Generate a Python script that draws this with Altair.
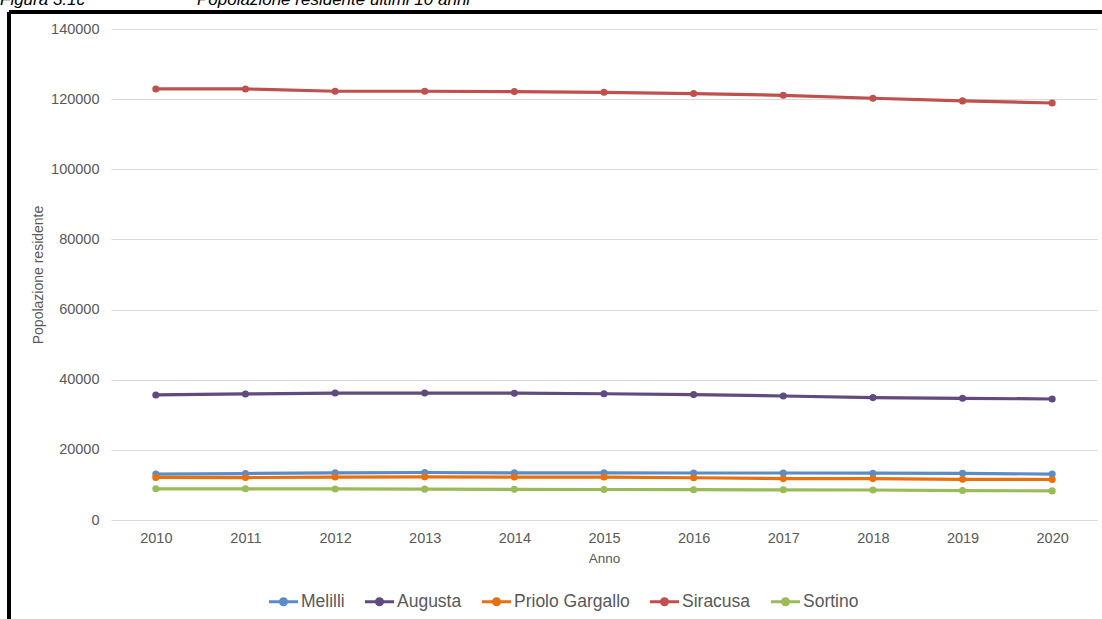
import altair as alt
import pandas as pd

years = [str(y) for y in range(2010, 2021)]
comuni = ["Melilli", "Augusta", "Priolo Gargallo", "Siracusa", "Sortino"]
melilli = [13100, 13250, 13450, 13550, 13450, 13450, 13400, 13400, 13350, 13300, 13100]
augusta = [35650, 35950, 36200, 36200, 36150, 36000, 35750, 35350, 34900, 34700, 34500]
priolo = [12150, 12100, 12250, 12300, 12250, 12250, 12050, 11800, 11800, 11600, 11550]
siracusa = [122900, 122900, 122250, 122250, 122150, 121950, 121600, 121100, 120250, 119500, 118900]
sortino = [8900, 8900, 8850, 8800, 8750, 8700, 8650, 8600, 8550, 8400, 8300]
colors = ["#5B8CC8", "#614A7D", "#E8700E", "#C0504D", "#9BBB59"]
series = [melilli, augusta, priolo, siracusa, sortino]

rows = []
for name, vals in zip(comuni, series):
    for y, v in zip(years, vals):
        rows.append({"Anno": y, "Comune": name, "Popolazione": v})
df = pd.DataFrame(rows)

FONT = "Liberation Sans"
GRAY = "#595959"

color = alt.Color(
    "Comune:N",
    scale=alt.Scale(domain=comuni, range=colors),
    sort=comuni,
    legend=alt.Legend(
        title=None,
        orient="none",
        direction="horizontal",
        legendX=156,
        legendY=556,
        symbolType="M-1,0L-0.21,0M0.21,0L1,0M-0.21,0A0.21,0.21 0 1,1 0.21,0A0.21,0.21 0 1,1 -0.21,0Z",
        symbolSize=850,
        symbolStrokeWidth=3,
        labelFontSize=17.5,
        labelColor=GRAY,
        labelFont=FONT,
        columnPadding=13,
        labelOffset=1,
    ),
)

x = alt.X(
    "Anno:O",
    sort=years,
    scale=alt.Scale(padding=0.5),
    axis=alt.Axis(
        title="Anno",
        labelAngle=0,
        ticks=False,
        domain=False,
        grid=False,
        labelFontSize=14.5,
        labelColor=GRAY,
        labelFont=FONT,
        labelPadding=11,
        titleFontSize=13.5,
        titleFontWeight="normal",
        titleColor=GRAY,
        titleFont=FONT,
        titlePadding=7,
    ),
)
y = alt.Y(
    "Popolazione:Q",
    scale=alt.Scale(domain=[0, 140000]),
    axis=alt.Axis(
        title="Popolazione residente",
        values=[0, 20000, 40000, 60000, 80000, 100000, 120000, 140000],
        format="d",
        ticks=False,
        domain=False,
        gridColor="#D9D9D9",
        labelFontSize=14.5,
        labelColor=GRAY,
        labelFont=FONT,
        labelPadding=12,
        titleFontSize=14,
        titleFontWeight="normal",
        titleColor=GRAY,
        titleFont=FONT,
        titlePadding=5,
    ),
)

lines = alt.Chart(df).mark_line(strokeWidth=3.2).encode(x=x, y=y, color=color, detail="Comune:N")
points = alt.Chart(df).mark_circle(size=50, opacity=1).encode(
    x=x, y=y, color=alt.Color("Comune:N", scale=alt.Scale(domain=comuni, range=colors), legend=None)
)

frame_left = alt.Chart(df).mark_rule(color="black", strokeWidth=2.5).encode(
    x=alt.value(-102), y=alt.value(-17), y2=alt.value(700)
)
frame_top = alt.Chart(df).mark_rule(color="black", strokeWidth=2.5).encode(
    x=alt.value(-102), x2=alt.value(1200), y=alt.value(-17)
)
t1 = alt.Chart(pd.DataFrame({"t": ["Figura 3.1c"]})).mark_text(
    align="left", baseline="alphabetic", fontSize=17, fontStyle="italic", font=FONT, color="black"
).encode(text="t:N", x=alt.value(-111), y=alt.value(-24))
t2 = alt.Chart(pd.DataFrame({"t": ["Popolazione residente ultimi 10 anni"]})).mark_text(
    align="left", baseline="alphabetic", fontSize=17, fontStyle="italic", font=FONT, color="black"
).encode(text="t:N", x=alt.value(86), y=alt.value(-24))

chart = alt.layer(lines, points, frame_left, frame_top, t1, t2).properties(
    width=986,
    height=491,
    autosize=alt.AutoSizeParams(type="none"),
    padding={"left": 111, "top": 29, "right": 5, "bottom": 99},
    background="white",
).configure_view(stroke=None)

chart.save("out.html", embed_options={"renderer": "svg", "actions": False})
